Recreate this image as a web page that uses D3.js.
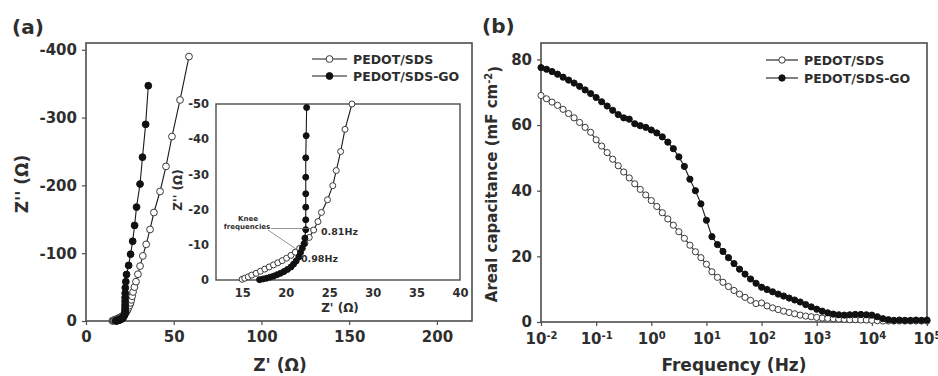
<!DOCTYPE html>
<html>
<head>
<meta charset="utf-8">
<script src="https://cdn.jsdelivr.net/npm/d3@7"></script>
<style>
  body { margin: 0; background: #fff; }
  svg text { font-family: "DejaVu Sans", sans-serif; font-weight: bold; fill: #2e2e2e; }
</style>
</head>
<body>
<div id="chart"></div>
<script>
// (a) Nyquist data: Z' (ohm) and Z'' (ohm)
const sdsRe = [15.0,15.3,15.7,16.1,16.6,17.1,17.6,18.1,18.6,19.1,19.6,20.1,20.6,21.1,21.6,22.2,22.7,23.2,23.7,24.1,24.8,25.4,25.8,26.3,26.8,27.6,28.5,29.6,30.8,32.4,34.3,36.5,38.7,42.2,45.6,49.0,53.6,58.7];
const sdsIm = [-0.2,-0.5,-0.9,-1.4,-1.9,-2.5,-3.1,-3.7,-4.3,-4.9,-5.5,-6.2,-7.0,-7.9,-9.0,-10.4,-12.1,-14.2,-16.6,-19.2,-22.8,-26.8,-31.1,-36.5,-42.8,-50,-58,-69,-81,-96,-113,-135,-160,-191,-228,-272,-326,-390];
const goRe = [17.0,17.4,17.8,18.2,18.6,19.0,19.4,19.8,20.2,20.6,20.9,21.2,21.5,21.7,21.9,22.1,22.2,22.3,22.3,22.3,22.3,22.3,22.3,22.35,22.4,22.7,23.1,24.3,25.4,26.6,27.7,28.8,30.8,32.2,34.0,35.5];
const goIm = [-0.1,-0.3,-0.5,-0.8,-1.1,-1.5,-1.9,-2.4,-3.0,-3.7,-4.5,-5.4,-6.5,-7.8,-9.0,-10.3,-11.9,-14.3,-17.1,-20.7,-24.5,-29.2,-34.7,-41,-49,-58,-68.6,-82,-98.5,-117.6,-141,-168,-202,-241.6,-290,-347];

// (b) areal capacitance vs log10 frequency
const logFreq = [-2,-1.9,-1.8,-1.7,-1.6,-1.5,-1.4,-1.3,-1.2,-1.1,-1,-0.9,-0.8,-0.7,-0.6,-0.5,-0.4,-0.3,-0.2,-0.1,0,0.1,0.2,0.3,0.4,0.5,0.6,0.7,0.8,0.9,1,1.1,1.2,1.3,1.4,1.5,1.6,1.7,1.8,1.9,2,2.1,2.2,2.3,2.4,2.5,2.6,2.7,2.8,2.9,3,3.1,3.2,3.3,3.4,3.5,3.6,3.7,3.8,3.9,4,4.1,4.2,4.3,4.4,4.5,4.6,4.7,4.8,4.9,5];
const capSds = [69.0,68.0,67.0,66.0,64.8,63.5,62.2,60.8,59.3,57.8,55.5,53.6,51.6,49.6,47.6,45.7,43.9,42.1,40.4,38.7,37.0,35.2,33.3,31.4,29.5,27.5,25.5,23.4,21.4,19.6,17.6,15.3,13.6,12.1,10.8,9.6,8.5,7.5,6.6,5.6,5.8,4.9,4.3,3.8,3.3,2.9,2.5,2.1,1.8,1.6,1.4,1.2,1.1,1.0,0.9,0.8,0.7,0.7,0.6,0.6,0.5,0.4,0.3,0.3,0.3,0.3,0.3,0.3,0.3,0.3,0.3];
const capGo = [77.5,77.0,76.3,75.5,74.6,73.7,72.8,71.8,70.7,69.6,68.4,67.1,65.8,64.5,63.2,62.2,61.8,60.4,59.8,59.3,58.5,57.6,56.4,54.8,52.8,50.3,47.4,43.5,40.0,36.0,31.0,26.0,23.6,21.5,19.6,17.8,16.1,14.6,13.1,11.8,10.6,9.9,9.2,8.5,7.9,7.3,6.7,6.1,5.3,4.6,3.9,3.3,2.8,2.4,2.2,2.1,2.2,2.3,2.3,2.2,2.1,1.6,1.0,0.7,0.5,0.6,0.5,0.5,0.6,0.5,0.6];

const seriesNames = ["PEDOT/SDS", "PEDOT/SDS-GO"];
const zTicksX = [0, 50, 100, 150, 200];
const zTicksY = [0, -100, -200, -300, -400];
const insetTicksX = [15, 20, 25, 30, 35, 40];
const insetTicksY = [0, -10, -20, -30, -40, -50];
const capTicks = [0, 20, 40, 60, 80];
const freqTicks = [-2, -1, 0, 1, 2, 3, 4, 5];

const axisColor = "#4d4d4d";

var svg = d3.select("#chart").append("svg")
  .attr("width", 938).attr("height", 376);

function zip(a, b) { return a.map((v, i) => [v, b[i]]); }
const sds = zip(sdsRe, sdsIm);
const go = zip(goRe, goIm);

function box(g, x0, y0, x1, y1, w) {
  g.append("rect").attr("x", x0).attr("y", y0)
    .attr("width", x1 - x0).attr("height", y1 - y0)
    .attr("fill", "#fff").attr("stroke", axisColor).attr("stroke-width", w);
}

function styleAxis(sel, fs) {
  sel.select(".domain").remove();
  sel.selectAll(".tick line").attr("stroke", axisColor).attr("stroke-width", 1.2);
  sel.selectAll(".tick text").style("font-size", fs + "px").attr("fill", "#2e2e2e");
}

// plain hyphen for negatives, like the original figure
const plain = d => String(d);

function drawSeries(g, data, x, y, filled, r) {
  var line = d3.line().x(d => x(d[0])).y(d => y(d[1]));
  g.append("path").datum(data).attr("d", line)
    .attr("fill", "none").attr("stroke", "#1a1a1a").attr("stroke-width", 1.1);
  g.selectAll(null).data(data).enter().append("circle")
    .attr("cx", d => x(d[0])).attr("cy", d => y(d[1])).attr("r", r)
    .attr("fill", filled ? "#111" : "#fff")
    .attr("stroke", filled ? "#111" : "#3a3a3a").attr("stroke-width", 1);
}

function legend(g, x0, y0, dy, len, r) {
  seriesNames.forEach(function(name, i) {
    var yy = y0 + i * dy;
    g.append("line").attr("x1", x0).attr("x2", x0 + len).attr("y1", yy).attr("y2", yy)
      .attr("stroke", "#1a1a1a").attr("stroke-width", 1.1);
    g.append("circle").attr("cx", x0 + len / 2).attr("cy", yy).attr("r", r)
      .attr("fill", i ? "#111" : "#fff").attr("stroke", i ? "#111" : "#3a3a3a");
    g.append("text").attr("x", x0 + len + 6).attr("y", yy + 4.5)
      .style("font-size", "12.5px").text(name);
  });
}

// ---------- panel (a) ----------
var ga = svg.append("g");
var xa = d3.scaleLinear().domain([0, 220]).range([86, 472]);
var ya = d3.scaleLinear().domain([0, -410]).range([321, 43]);
box(ga, 86, 43, 472, 321, 1.6);

ga.append("g").attr("transform", "translate(0,321)")
  .call(d3.axisBottom(xa).tickValues(zTicksX).tickSize(4).tickPadding(6).tickFormat(plain))
  .call(s => styleAxis(s, 15));
ga.append("g").attr("transform", "translate(86,0)")
  .call(d3.axisLeft(ya).tickValues(zTicksY).tickSize(4).tickPadding(5).tickFormat(plain))
  .call(s => styleAxis(s, 15));

drawSeries(ga, sds, xa, ya, false, 3.4);
drawSeries(ga, go, xa, ya, true, 3.4);
legend(ga, 312, 59, 17, 35, 3.4);

ga.append("text").attr("x", 12).attr("y", 34).style("font-size", "20px").text("(a)");
ga.append("text").attr("x", 280).attr("y", 371).attr("text-anchor", "middle")
  .style("font-size", "17px").text("Z' (Ω)");
ga.append("text").attr("transform", "translate(28,184) rotate(-90)").attr("text-anchor", "middle")
  .style("font-size", "17px").text("Z'' (Ω)");

// inset
var gi = svg.append("g");
var xi = d3.scaleLinear().domain([12, 40]).range([216, 460]);
var yi = d3.scaleLinear().domain([0, -50]).range([280, 104]);
box(gi, 216, 104, 460, 280, 1.4);

gi.append("g").attr("transform", "translate(0,280)")
  .call(d3.axisBottom(xi).tickValues(insetTicksX).tickSize(0).tickPadding(9).tickFormat(plain))
  .call(s => styleAxis(s, 11.5));
gi.append("g").attr("transform", "translate(216,0)")
  .call(d3.axisLeft(yi).tickValues(insetTicksY).tickSize(0).tickPadding(7).tickFormat(plain))
  .call(s => styleAxis(s, 11.5));

drawSeries(gi, sds.filter(d => d[1] >= -50.5), xi, yi, false, 3);
drawSeries(gi, go.filter(d => d[1] >= -50.5), xi, yi, true, 3);

// knee annotation
gi.append("line").attr("x1", 271).attr("y1", 228.5).attr("x2", 312).attr("y2", 228.5)
  .attr("stroke", "#777").attr("stroke-width", 0.8);
gi.append("line").attr("x1", 268).attr("y1", 230).attr("x2", 296).attr("y2", 249)
  .attr("stroke", "#777").attr("stroke-width", 0.8);
gi.append("text").attr("x", 248).attr("y", 221).attr("text-anchor", "middle")
  .style("font-size", "7px").text("Knee");
gi.append("text").attr("x", 247).attr("y", 229).attr("text-anchor", "middle")
  .style("font-size", "7px").text("frequencies");
gi.append("text").attr("x", 321).attr("y", 235).style("font-size", "9.5px").text("0.81Hz");
gi.append("text").attr("x", 301).attr("y", 262).style("font-size", "9.5px").text("0.98Hz");

gi.append("text").attr("x", 340).attr("y", 312).attr("text-anchor", "middle")
  .style("font-size", "12px").text("Z' (Ω)");
gi.append("text").attr("transform", "translate(182,190) rotate(-90)").attr("text-anchor", "middle")
  .style("font-size", "12px").text("Z'' (Ω)");

// ---------- panel (b) ----------
var gb = svg.append("g");
var xb = d3.scaleLog().domain([1e-2, 1e5]).range([541, 927]);
var yb = d3.scaleLinear().domain([0, 85]).range([322, 43]);
box(gb, 541, 43, 927, 322, 1.6);

var xAxisB = gb.append("g").attr("transform", "translate(0,322)")
  .call(d3.axisBottom(xb).tickValues(freqTicks.map(e => Math.pow(10, e))).tickSize(4).tickPadding(7).tickFormat(""))
  .call(s => styleAxis(s, 15));
xAxisB.selectAll(".tick text").each(function(d) {
  var t = d3.select(this);
  var e = Math.round(Math.log10(d));
  t.append("tspan").text("10");
  t.append("tspan").attr("dy", "-0.45em").style("font-size", "10px").text(e);
});
gb.append("g").attr("transform", "translate(541,0)")
  .call(d3.axisLeft(yb).tickValues(capTicks).tickSize(4).tickPadding(5))
  .call(s => styleAxis(s, 15));

var fq = logFreq.map(e => Math.pow(10, e));
drawSeries(gb, zip(fq, capSds), xb, yb, false, 3.1);
drawSeries(gb, zip(fq, capGo), xb, yb, true, 3.1);
legend(gb, 766, 60, 18, 32, 3.2);

gb.append("text").attr("x", 482).attr("y", 33).style("font-size", "20px").text("(b)");
gb.append("text").attr("x", 734).attr("y", 371).attr("text-anchor", "middle")
  .style("font-size", "17px").text("Frequency (Hz)");
var yl = gb.append("text").attr("transform", "translate(497,184) rotate(-90)").attr("text-anchor", "middle")
  .style("font-size", "15px");
yl.append("tspan").text("Areal capacitance (mF cm");
yl.append("tspan").attr("dy", "-0.5em").style("font-size", "10px").text("-2");
yl.append("tspan").attr("dy", "0.5em").text(")");
</script>
</body>
</html>
